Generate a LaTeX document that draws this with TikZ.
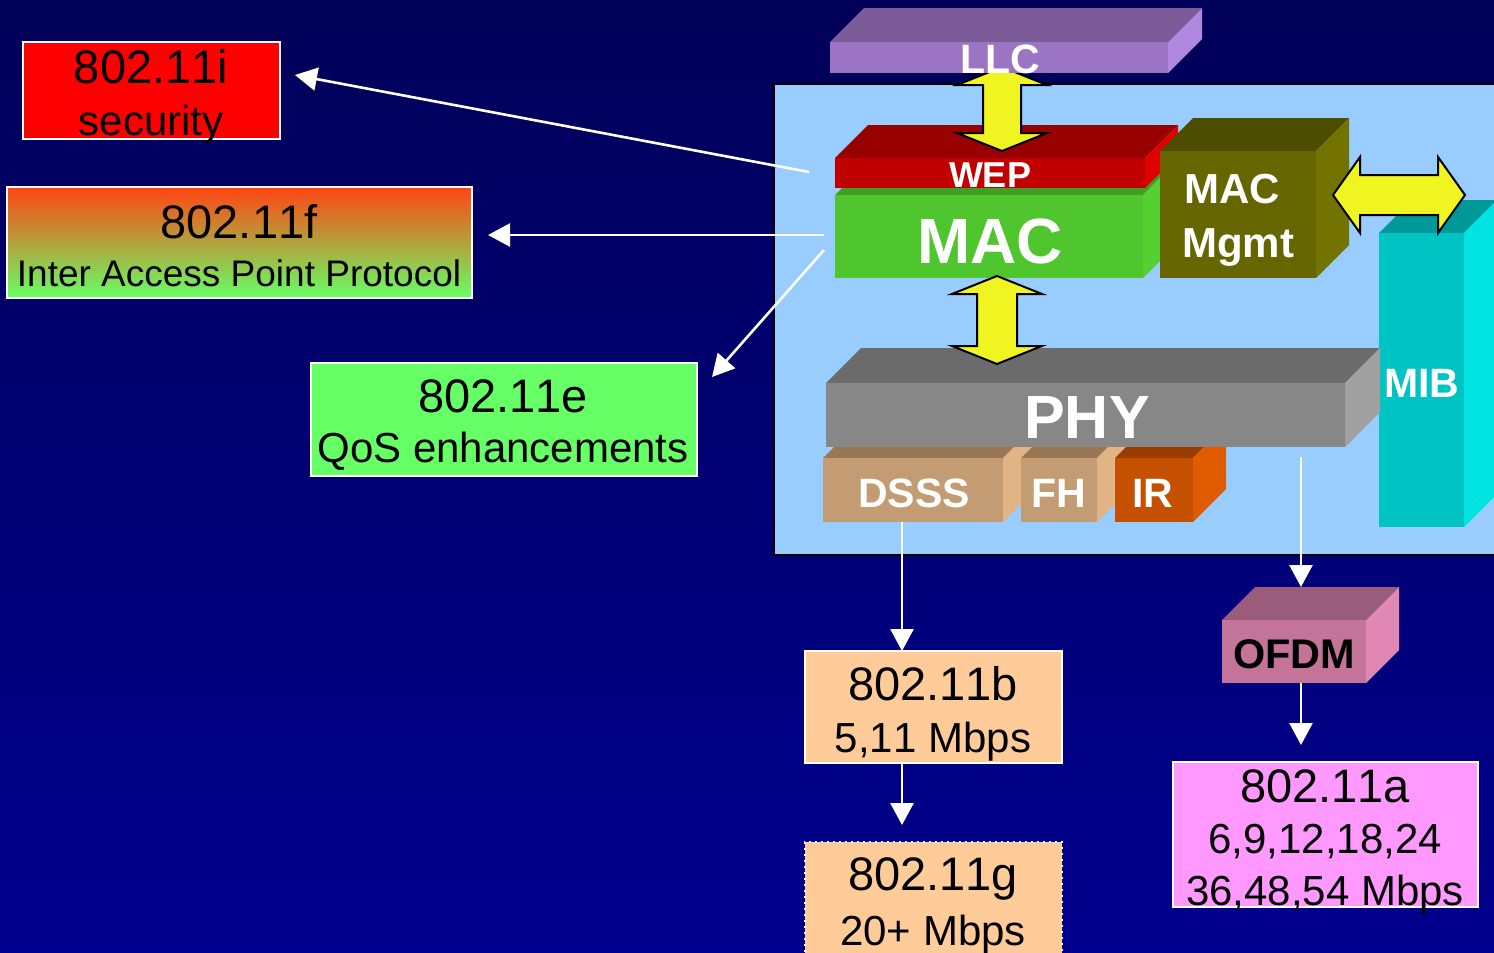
\documentclass[tikz,border=0pt]{standalone}
\usepackage{fontspec}
\setmainfont[Kerning=Off]{Liberation Sans}
\usetikzlibrary{arrows.meta,calc}

% slide colours
\definecolor{bgtop}{HTML}{000058}
\definecolor{bgbot}{HTML}{00008E}
\definecolor{panel}{HTML}{99CCFF}
\definecolor{arrowyellow}{HTML}{F0F522}
% cuboid faces: F = front, T = top, S = side
\definecolor{llcF}{HTML}{9B74C4}\definecolor{llcT}{HTML}{7B5C99}\definecolor{llcS}{HTML}{B088E0}
\definecolor{wepF}{HTML}{C00000}\definecolor{wepT}{HTML}{990000}\definecolor{wepS}{HTML}{E00000}
\definecolor{macF}{HTML}{4FC52E}\definecolor{macT}{HTML}{3F9F22}\definecolor{macS}{HTML}{55D030}
\definecolor{mgmtF}{HTML}{666600}\definecolor{mgmtT}{HTML}{4D4D00}\definecolor{mgmtS}{HTML}{737300}
\definecolor{mibF}{HTML}{00C4C4}\definecolor{mibT}{HTML}{009999}\definecolor{mibS}{HTML}{00E3E3}
\definecolor{phyF}{HTML}{878787}\definecolor{phyT}{HTML}{6B6B6B}\definecolor{phyS}{HTML}{A0A0A0}
\definecolor{tanF}{HTML}{C49C73}\definecolor{tanT}{HTML}{997755}\definecolor{tanS}{HTML}{E0B485}
\definecolor{irF}{HTML}{C45000}\definecolor{irT}{HTML}{993D00}\definecolor{irS}{HTML}{E05C00}
\definecolor{ofdmF}{HTML}{C47399}\definecolor{ofdmT}{HTML}{995C7A}\definecolor{ofdmS}{HTML}{E088B3}
% standard boxes
\definecolor{secred}{HTML}{FF0000}
\definecolor{qosgreen}{HTML}{66FF66}
\definecolor{iappTop}{HTML}{FF4514}
\definecolor{iappMid}{HTML}{D99A40}
\definecolor{peach}{HTML}{FFCC99}
\definecolor{pink}{HTML}{FF99FF}

\newcommand{\fs}[1]{\fontsize{#1}{#1}\selectfont}

% cuboid: name, x, y (top-left of front face), width, height, depth, colour prefix
\newcommand{\cuboid}[7]{%
  \fill[#7T] (#2,#3) -- ++(#6,-#6) -- ++(#4,0) -- ++(-#6,#6) -- cycle;
  \fill[#7S] (#2+#4,#3) -- ++(#6,-#6) -- ++(0,#5) -- ++(-#6,#6) -- cycle;
  \node[face,fill=#7F,minimum width=#4*0.5pt,minimum height=#5*0.5pt] (#1) at (#2,#3) {};
}
% vertical double block arrow: cx, top, bottom, head half-width, shaft half-width, head length
\newcommand{\vdarrow}[6]{%
  \draw[blockarrow] (#1,#2) -- (#1+#4,#2+#6) -- (#1+#5,#2+#6) -- (#1+#5,#3-#6)
    -- (#1+#4,#3-#6) -- (#1,#3) -- (#1-#4,#3-#6) -- (#1-#5,#3-#6)
    -- (#1-#5,#2+#6) -- (#1-#4,#2+#6) -- cycle;
}
% horizontal double block arrow: cy, left, right, head half-height, shaft half-height, head length
\newcommand{\hdarrow}[6]{%
  \draw[blockarrow] (#2,#1) -- (#2+#6,#1-#4) -- (#2+#6,#1-#5) -- (#3-#6,#1-#5)
    -- (#3-#6,#1-#4) -- (#3,#1) -- (#3-#6,#1+#4) -- (#3-#6,#1+#5)
    -- (#2+#6,#1+#5) -- (#2+#6,#1+#4) -- cycle;
}
% flat labelled box: name, x1, y1, x2, y2, style
\newcommand{\flatbox}[6]{%
  \node[#6,anchor=north west,inner sep=0,outer sep=0,
        minimum width=(#4-#2)*0.5pt,minimum height=(#5-#3)*0.5pt] (#1) at (#2,#3) {};
}

\tikzset{
  face/.style={anchor=north west,inner sep=0,outer sep=0,draw=none},
  blockarrow/.style={fill=arrowyellow,draw=black,line width=1pt,line join=miter},
  lbl/.style={anchor=base,inner sep=0,text=white,font=\bfseries},
  txt/.style={anchor=base,inner sep=0,text=black},
  stdbox/.style={draw=white,line width=1pt},
  conn/.style={draw=white,line width=1.3pt,-{Triangle[length=11pt,width=11.5pt]}},
}

\begin{document}
\begin{tikzpicture}[x=0.5pt,y=-0.5pt]
\useasboundingbox (0,0) rectangle (1494,953);
\clip (0,0) rectangle (1494,953);

% background
\shade[top color=bgtop,bottom color=bgbot] (0,0) rectangle (1494,953);

% protocol stack panel
\draw[fill=panel,draw=black,line width=1.3pt] (774,84) rectangle (1510,555);

% MIB column
\cuboid{mib}{1379}{233}{85}{294}{33}{mib}

% MAC, WEP
\cuboid{mac}{835}{195}{308}{83}{33}{mac}
\cuboid{wep}{835}{158}{310}{30}{33}{wep}
\vdarrow{1002}{67}{151}{45}{19}{18}
\cuboid{llc}{830}{42}{338}{31}{34}{llc}

% MAC management
\cuboid{mgmt}{1160}{151}{156}{127}{33}{mgmt}
\hdarrow{195}{1333}{1465}{38}{20}{27}

% physical layers
\cuboid{dsss}{823}{458}{180}{64}{33}{tan}
\cuboid{fh}{1021}{458}{76}{64}{33}{tan}
\cuboid{ir}{1115}{458}{78}{64}{33}{ir}
\cuboid{phy}{826}{383}{519}{64}{35}{phy}
\vdarrow{997}{276}{364}{45}{20}{18}

% OFDM
\cuboid{ofdm}{1222}{620}{144}{63}{33}{ofdm}

% layer labels
\node[lbl,font=\fs{20.5}\bfseries] (llcl) at (1000,73) {LLC};
\node[lbl,font=\fs{18}\bfseries] (wepl) at (990,187) {WEP};
\node[lbl,font=\fs{32}\bfseries] (macl) at (990,263) {MAC};
\node[lbl,font=\fs{21}\bfseries] (mgmtl1) at (1232,203) {MAC};
\node[lbl,font=\fs{21}\bfseries] (mgmtl2) at (1238,257) {Mgmt};
\node[lbl,font=\fs{20.5}\bfseries] (mibl) at (1422,397) {MIB};
\node[lbl,font=\fs{30.5}\bfseries] (phyl) at (1087,438) {PHY};
\node[lbl,font=\fs{20.5}\bfseries] (dsssl) at (914,507) {DSSS};
\node[lbl,font=\fs{20.5}\bfseries] (fhl) at (1059,507) {FH};
\node[lbl,font=\fs{20.5}\bfseries] (irl) at (1153,507) {IR};
\node[txt,font=\fs{20.7}\bfseries] (ofdml) at (1294,668) {OFDM};

% amendment boxes
\flatbox{i11}{23}{42}{280}{139}{stdbox,fill=secred}
\flatbox{f11}{7}{187}{472}{298}{stdbox,top color=iappTop,middle color=iappMid,bottom color=qosgreen}
\flatbox{e11}{311}{363}{697}{476}{stdbox,fill=qosgreen}
\flatbox{b11}{805}{651}{1062}{763}{stdbox,fill=peach}
\flatbox{g11}{805}{842}{1062}{970}{stdbox,dotted,fill=peach}
\flatbox{a11}{1173}{762}{1478}{907}{stdbox,fill=pink}

\node[txt,font=\fs{23.5}] (i11a) at (151,83) {802.11i};
\node[txt,font=\fs{21}] (i11b) at (151,135) {security};
\node[txt,font=\fs{23.5}] (f11a) at (239,238) {802.11f};
\node[txt,font=\fs{18.5}] (f11b) at (239,286) {Inter Access Point Protocol};
\node[txt,font=\fs{23.5}] (e11a) at (503,412) {802.11e};
\node[txt,font=\fs{21}] (e11b) at (503,462) {QoS enhancements};
\node[txt,font=\fs{23.5}] (b11a) at (933,700) {802.11b};
\node[txt,font=\fs{21}] (b11b) at (933,752) {5,11 Mbps};
\node[txt,font=\fs{23.5}] (g11a) at (933,890) {802.11g};
\node[txt,font=\fs{21}] (g11b) at (933,945) {20+ Mbps};
\node[txt,font=\fs{23.5}] (a11a) at (1325,802) {802.11a};
\node[txt,font=\fs{21}] (a11b) at (1325,853) {6,9,12,18,24};
\node[txt,font=\fs{21}] (a11c) at (1325,905) {36,48,54 Mbps};

% connectors
\coordinate (si) at (809,172);
\coordinate (ti) at (295,75);
\coordinate (sf) at (824,235);
\coordinate (se) at (824,250);
\coordinate (te) at (712,377);
\coordinate (sd) at (902,522);
\coordinate (sp) at (1301,457);

\draw[conn] (si) -- (ti);
\draw[conn] (sf) -- ($(f11.east |- sf)+(16,0)$);
\draw[conn] (se) -- (te);
\draw[conn] (sd) -- (sd |- b11.north);
\draw[conn] (b11.south -| sd) -- ($(g11.north -| sd)+(0,-17)$);
\draw[conn] (sp) -- ($(ofdm.north -| sp)+(0,-33)$);
\draw[conn] (ofdm.south -| sp) -- ($(a11.north -| sp)+(0,-17)$);
\end{tikzpicture}
\end{document}
